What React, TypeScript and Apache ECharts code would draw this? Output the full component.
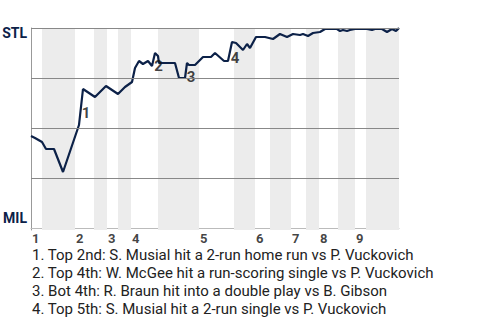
import React, { useEffect, useRef } from "react";
import * as echarts from "echarts";

// Game progress (0–100) and St. Louis win probability (%)
const progress = [
  0, 1.09, 2.99, 4.08, 6.25, 8.7, 13.04, 14.13, 17.39, 20.38, 23.64, 25.54, 27.45, 28.26,
  29.35, 30.43, 31.79, 32.88, 33.7, 34.51, 34.78, 39.13, 40.22, 41.85, 42.39, 42.93, 44.57,
  46.74, 48.91, 50.0, 52.45, 53.53, 54.62, 55.71, 57.61, 58.7, 59.51, 61.14, 63.59, 65.76,
  67.66, 69.57, 71.2, 73.1, 73.91, 75.27, 76.63, 78.53, 79.89, 83.15, 83.97, 84.78, 85.87,
  86.68, 88.04, 91.3, 92.66, 93.48, 95.38, 96.74, 98.1, 99.18, 100,
];
const stlWinPct = [
  46, 45, 43, 39.5, 39.5, 28, 51.5, 69.5, 65.5, 71, 67, 70.5, 73, 80, 83.5, 82, 83.5, 81,
  87.5, 86, 82.5, 82.5, 75, 75, 82.5, 81.5, 81.5, 85.5, 85.5, 87.5, 83.5, 83.5, 93, 92.5, 89,
  92, 90, 95.5, 95.5, 94.5, 97, 95.5, 97, 96.5, 97, 96, 97.5, 98, 99.5, 99.5, 98.5, 99, 98.5,
  99, 99.5, 99.5, 99, 99.5, 99.5, 98, 99.5, 98.5, 100,
];

// Half-inning boundaries (progress units)
const inningStarts = [0, 11.96, 20.65, 27.17, 45.65, 60.87, 70.65, 78.26, 88.04];
const inningLabels = ["1", "2", "3", "4", "5", "6", "7", "8", "9"];
const bottomHalfStarts = [2.99, 17.12, 23.64, 34.51, 55.16, 64.95, 74.73, 83.42, 91.03];
const bottomHalfEnds = [11.96, 20.65, 27.17, 45.65, 60.87, 70.65, 78.26, 88.04, 100];

// Key events: index of the data point the event leads to
const eventIndex = [7, 18, 24, 32];
const eventLabels = ["1", "2", "3", "4"];
const eventNotes = [
  "1. Top 2nd: S. Musial hit a 2-run home run vs P. Vuckovich",
  "2. Top 4th: W. McGee hit a run-scoring single vs P. Vuckovich",
  "3. Bot 4th: R. Braun hit into a double play vs B. Gibson",
  "4. Top 5th: S. Musial hit a 2-run single vs P. Vuckovich",
];

const gridLevels = [25, 50, 75, 100];
const teamTop = "STL";
const teamBottom = "MIL";

const NAVY = "#0c2148";
const FONT = "Roboto, 'Liberation Sans', Arial, sans-serif";

export default function App() {
  const ref = useRef<HTMLDivElement>(null);
  useEffect(() => {
    if (!ref.current) return;
    const chart = echarts.init(ref.current, undefined, { renderer: "svg" });
    const lineData = progress.map((x, i) => [x, stlWinPct[i]]);
    const eventData = eventIndex.map((idx, k) => ({
      value: [
        (progress[idx - 1] + progress[idx]) / 2,
        (stlWinPct[idx - 1] + stlWinPct[idx]) / 2,
      ],
      name: eventLabels[k],
    }));
    chart.setOption({
      animation: false,
      grid: { left: 31, right: 81, top: 28, bottom: 90, containLabel: false },
      xAxis: {
        type: "value",
        min: 0,
        max: 100,
        axisLine: { show: true, lineStyle: { color: "#bbbbbb", width: 1 } },
        axisTick: { show: false },
        axisLabel: { show: false },
        splitLine: { show: false },
      },
      yAxis: {
        type: "value",
        min: -1,
        max: 100,
        axisLine: { show: true, lineStyle: { color: "#999999", width: 1 } },
        axisTick: { show: false },
        axisLabel: { show: false },
        splitLine: { show: false },
      },
      graphic: [
        {
          type: "text",
          right: 480 - 27,
          top: 26,
          style: {
            text: teamTop,
            fontSize: 14,
            fontWeight: "bold",
            fontFamily: FONT,
            fill: NAVY,
          },
        },
        {
          type: "text",
          right: 480 - 27,
          top: 211,
          style: {
            text: teamBottom,
            fontSize: 14,
            fontWeight: "bold",
            fontFamily: FONT,
            fill: NAVY,
          },
        },
        ...eventNotes.map((t, i) => ({
          type: "text",
          left: 32,
          top: 247 + i * 18,
          style: {
            text: t,
            fontSize: 15,
            lineHeight: 14,
            fontFamily: FONT,
            fill: "#222222",
          },
        })),
      ],
      series: [
        {
          type: "line",
          data: [],
          z: 1,
          silent: true,
          markArea: {
            silent: true,
            itemStyle: { color: "#ececec" },
            data: bottomHalfStarts.map((s, i) => [{ xAxis: s }, { xAxis: bottomHalfEnds[i] }]),
          },
        },
        {
          type: "line",
          data: [],
          z: 2,
          silent: true,
          markLine: {
            silent: true,
            symbol: "none",
            label: { show: false },
            lineStyle: { color: "#888888", width: 1, type: "solid" },
            data: gridLevels.map((v) => ({ yAxis: v })),
          },
        },
        {
          type: "line",
          data: lineData,
          z: 3,
          symbol: "none",
          smooth: false,
          lineStyle: { color: NAVY, width: 2.2 },
        },
        {
          type: "scatter",
          z: 4,
          symbolSize: 0,
          silent: true,
          data: eventData,
          label: {
            show: true,
            formatter: (p: any) => p.name,
            position: [5, 6],
            align: "center",
            verticalAlign: "middle",
            fontSize: 15,
            fontWeight: "bold",
            fontFamily: FONT,
            color: "#111111",
          },
        },
        {
          type: "scatter",
          z: 4,
          symbolSize: 0,
          silent: true,
          clip: false,
          data: inningStarts.map((x, i) => ({ value: [x, -1], name: inningLabels[i] })),
          label: {
            show: true,
            formatter: (p: any) => p.name,
            position: [1, 2],
            align: "left",
            verticalAlign: "top",
            fontSize: 13,
            lineHeight: 12,
            fontWeight: "bold",
            fontFamily: FONT,
            color: "#111111",
          },
        },
      ],
    });
    return () => chart.dispose();
  }, []);
  return (
    <div
      ref={ref}
      style={{ position: "fixed", left: 0, top: 0, width: 480, height: 320, background: "#fff" }}
    />
  );
}
